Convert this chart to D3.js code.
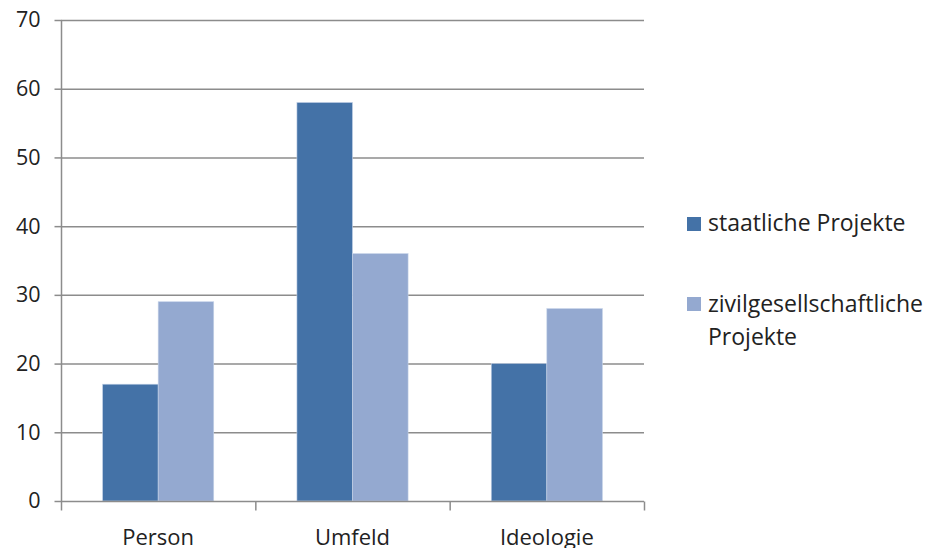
<!DOCTYPE html>
<html><head><meta charset="utf-8">
<script src="https://cdn.jsdelivr.net/npm/d3@7"></script>
<style>body{margin:0;background:#fff}svg text{font-family:"Open Sans","Liberation Sans",sans-serif;fill:#222}</style>
</head><body><svg id="c" width="930" height="548"></svg>
<script>
const categories = ["Person","Umfeld","Ideologie"];
const seriesNames = ["staatliche Projekte","zivilgesellschaftliche Projekte"];
const staatliche = [17,58,20];
const zivil = [29,36,28];
const yTicks = [0,10,20,30,40,50,60,70];
const colors = ["#4472A7","#94A9D0"];

(function(){
const svg = d3.select("#c");
const pLeft = 61, pRight = 644, pTop = 20, pBottom = 501;
const x0 = d3.scaleBand().domain(categories).range([pLeft,pRight]).padding(0);
const x1 = d3.scaleBand().domain([0,1]).range([x0.bandwidth()*0.214, x0.bandwidth()*0.786]).padding(0);
const y = d3.scaleLinear().domain([0,70]).range([pBottom,pTop]);

svg.append("g").selectAll("line").data(yTicks.filter(d=>d>0)).join("line")
  .attr("x1",pLeft).attr("x2",pRight).attr("y1",d=>y(d)+0.5).attr("y2",d=>y(d)+0.5)
  .attr("stroke","#8c8c8c").attr("stroke-width",1.5);

const series = [staatliche, zivil];
const g = svg.append("g");
categories.forEach((c,i)=>{
  series.forEach((s,j)=>{
    g.append("rect").attr("x",x0(c)+x1(j)).attr("width",x1.bandwidth())
      .attr("y",y(s[i])).attr("height",y(0)-y(s[i]))
      .attr("fill",colors[j]).attr("stroke","#c5d3e8").attr("stroke-width",0.6);
  });
});

const ya = svg.append("g").attr("transform",`translate(${pLeft+0.5},0)`)
  .call(d3.axisLeft(y).tickValues(yTicks).tickSize(7).tickPadding(14).tickFormat(d3.format("d")));
ya.select(".domain").attr("stroke","#8c8c8c").attr("stroke-width",1.5).attr("d",`M0,${pTop}V${pBottom}`);
ya.selectAll(".tick line").attr("stroke","#8c8c8c").attr("stroke-width",1.5);
ya.selectAll("text").attr("font-size",21.5).attr("fill","#222");

const xa = svg.append("g").attr("transform",`translate(0,${pBottom+0.5})`)
  .call(d3.axisBottom(x0).tickSize(0).tickPadding(28));
xa.select(".domain").attr("stroke","#8c8c8c").attr("stroke-width",1.5).attr("d",`M${pLeft},0H${pRight}`);
xa.selectAll("text").attr("font-size",22).attr("fill","#222");
const bounds = categories.map(c=>x0(c)).concat([pRight]);
xa.append("g").selectAll("line").data(bounds).join("line")
  .attr("x1",d=>d+0.5).attr("x2",d=>d+0.5).attr("y1",0).attr("y2",9)
  .attr("stroke","#8c8c8c").attr("stroke-width",1.5);

const lfs = 23;
const lg = svg.append("g");
lg.append("rect").attr("x",687).attr("y",217).attr("width",14).attr("height",14).attr("fill",colors[0]);
lg.append("text").attr("x",708).attr("y",231).attr("font-size",lfs).text(seriesNames[0]);
lg.append("rect").attr("x",687).attr("y",297).attr("width",14).attr("height",14).attr("fill",colors[1]);
lg.append("text").attr("x",708).attr("y",312).attr("font-size",lfs).text("zivilgesellschaftliche");
lg.append("text").attr("x",708).attr("y",345).attr("font-size",lfs).text("Projekte");
})();
</script></body></html>
